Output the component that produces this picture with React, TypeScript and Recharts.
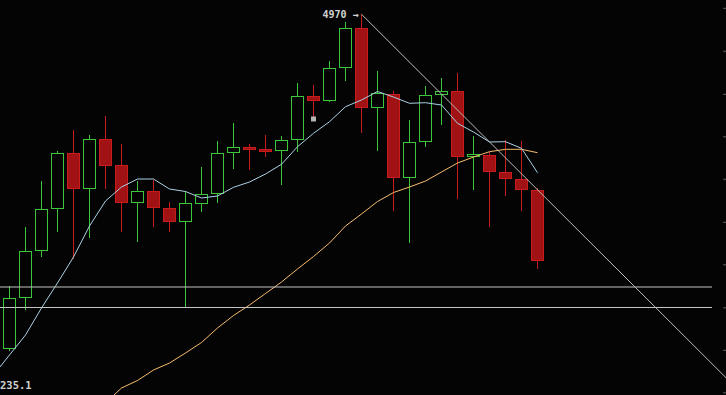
import React from 'react';
import { ComposedChart, Bar, Line, XAxis, YAxis, ReferenceLine, ReferenceDot } from 'recharts';

// candle index (x) values; -1 carries only the moving-average start
const indices = [-1, 0, 1, 2, 3, 4, 5, 6, 7, 8, 9, 10, 11, 12, 13, 14, 15, 16, 17, 18, 19, 20, 21, 22, 23, 24, 25, 26, 27, 28, 29, 30, 31, 32, 33];

const opens = [4302.0, 4404.0, 4498.0, 4582.0, 4692.6, 4622.0, 4720.6, 4666.6, 4594.0, 4616.6, 4582.6, 4555.2, 4591.2, 4611.2, 4694.0, 4704.6, 4700.6, 4697.2, 4720.0, 4806.0, 4797.2, 4863.2, 4942.0, 4783.2, 4810.6, 4644.0, 4716.0, 4810.0, 4816.0, 4685.2, 4688.0, 4654.0, 4640.0, 4618.0];
const closes = [4402.0, 4496.6, 4580.6, 4692.6, 4622.0, 4720.6, 4668.0, 4594.0, 4616.6, 4583.2, 4555.2, 4590.6, 4610.0, 4692.6, 4704.0, 4700.6, 4696.6, 4718.0, 4806.0, 4797.2, 4862.0, 4942.0, 4783.2, 4810.6, 4644.0, 4714.0, 4808.0, 4816.0, 4685.2, 4690.0, 4656.0, 4642.0, 4620.0, 4478.0];
const highs = [4425.2, 4543.2, 4636.6, 4696.6, 4738.6, 4728.6, 4766.6, 4708.6, 4635.2, 4637.2, 4594.6, 4615.2, 4664.6, 4716.6, 4752.6, 4710.6, 4728.6, 4724.6, 4832.6, 4828.6, 4874.6, 4954.0, 4970.0, 4854.6, 4816.6, 4756.6, 4826.6, 4842.6, 4852.6, 4724.6, 4694.6, 4717.2, 4716.6, 4622.0];
const lows = [4297.2, 4380.0, 4485.2, 4535.2, 4482.6, 4524.0, 4621.2, 4535.2, 4515.2, 4545.2, 4535.2, 4384.0, 4575.2, 4593.2, 4661.2, 4659.2, 4685.2, 4629.2, 4695.2, 4766.6, 4796.6, 4837.2, 4734.6, 4697.2, 4577.2, 4513.2, 4705.2, 4749.2, 4601.2, 4619.2, 4545.2, 4607.2, 4577.2, 4461.2];

const maFast = [4248.6, 4288.6, 4328.6, 4382.6, 4432.6, 4484.6, 4546.6, 4596.6, 4624.6, 4640.6, 4640.6, 4620.6, 4615.6, 4602.6, 4606.6, 4624.0, 4634.6, 4650.6, 4670.0, 4705.2, 4732.0, 4755.2, 4785.2, 4798.6, 4815.6, 4804.6, 4792.0, 4793.2, 4788.6, 4752.0, 4734.6, 4714.6, 4715.2, 4702.0, 4653.2];
const maSlow = [null, null, null, null, null, null, null, 4192.6, 4222.6, 4237.6, 4258.6, 4272.6, 4292.6, 4313.6, 4342.6, 4367.6, 4388.6, 4411.6, 4434.6, 4460.6, 4485.6, 4512.6, 4546.6, 4570.6, 4595.6, 4613.6, 4624.6, 4636.6, 4654.6, 4672.6, 4684.6, 4695.2, 4700.0, 4700.0, 4693.2];

const levels = [4424.6, 4383.6];
const priceTicks = [4982, 4896, 4810, 4725, 4640, 4554, 4469, 4383, 4298, 4213];
const trendStart = { i: 22, price: 4970 };
const trendEnd = { i: 44.78125, price: 4243.2 };
const highLabel = '4970 →';
const lowLabel = '235.1';
const lowLabelPrice = 4228.6;
const marker = { i: 19, price: 4760.6 };

const X_MIN = -0.59375;
const X_MAX = 44.78125;
const Y_MIN = 4208.6;
const Y_MAX = 4998.6;
const LEVEL_END = 43.90625;
const TICK_START = 44.59375;

const GREEN = '#3ec63a';
const RED_LINE = '#c81c1c';
const RED_FILL = '#a01214';
const BG = '#040404';

const rows = indices.map((i, k) => {
  const c = k - 1;
  const has = c >= 0;
  return {
    i,
    open: has ? opens[c] : null,
    close: has ? closes[c] : null,
    high: has ? highs[c] : null,
    low: has ? lows[c] : null,
    maFast: maFast[k],
    maSlow: maSlow[k],
  };
});

const Candle = (props: any) => {
  const { x, y, width, height, payload } = props;
  if (!payload || payload.open == null) return null;
  const { open, close, high, low } = payload;
  const yTop = Math.min(y, y + height);
  const h = Math.abs(height);
  const ratio = h / (high - low);
  const toY = (v: number) => yTop + (high - v) * ratio;
  const cx = Math.floor(x + width / 2) + 0.5;
  const up = close >= open;
  const bTop = Math.floor(toY(Math.max(open, close))) + 0.5;
  let bBot = Math.floor(toY(Math.min(open, close))) + 0.5;
  if (bBot - bTop < 1) bBot = bTop + 1;
  const wTop = Math.floor(toY(high));
  const wBot = Math.floor(toY(low)) + 1;
  const line = up ? GREEN : RED_LINE;
  return (
    <g>
      <line x1={cx} x2={cx} y1={wTop} y2={wBot} stroke={line} strokeWidth={1} shapeRendering="crispEdges" />
      <rect x={cx - 6} y={bTop} width={12} height={bBot - bTop} fill={up ? BG : RED_FILL} stroke={line} strokeWidth={1} />
    </g>
  );
};

const Square = (props: any) => {
  const { cx, cy } = props;
  return <rect x={cx - 2.5} y={cy - 2.5} width={5} height={5} fill="#b4b4b4" />;
};

export default function App() {
  return (
    <div style={{ position: 'fixed', left: 0, top: 0, width: 726, height: 395, background: BG, overflow: 'hidden' }}>
      <ComposedChart width={726} height={395} data={rows} margin={{ top: 0, right: 0, bottom: 0, left: 0 }}>
        <XAxis dataKey="i" type="number" domain={[X_MIN, X_MAX]} allowDataOverflow hide />
        <YAxis type="number" domain={[Y_MIN, Y_MAX]} allowDataOverflow hide />
        <Bar
          dataKey={(d: any) => (d.open == null ? null : [d.low, d.high])}
          barSize={12}
          shape={Candle}
          isAnimationActive={false}
        />
        <Line type="linear" dataKey="maSlow" stroke="#f8bc6c" strokeWidth={1} dot={false} isAnimationActive={false} connectNulls={false} />
        <Line type="linear" dataKey="maFast" stroke="#aad2e6" strokeWidth={1} dot={false} isAnimationActive={false} />
        {levels.map((v, k) => (
          <ReferenceLine
            key={'lv' + k}
            segment={[{ x: X_MIN, y: v }, { x: LEVEL_END, y: v }]}
            stroke="#c4c4c4"
            strokeWidth={1}
            ifOverflow="visible"
          />
        ))}
        {priceTicks.map((v, k) => (
          <ReferenceLine
            key={'tk' + k}
            segment={[{ x: TICK_START, y: v }, { x: X_MAX, y: v }]}
            stroke="#5a5a5a"
            strokeWidth={1}
            ifOverflow="visible"
          />
        ))}
        <ReferenceLine
          segment={[{ x: trendStart.i, y: trendStart.price }, { x: trendEnd.i, y: trendEnd.price }]}
          stroke="#bcbcbc"
          strokeWidth={1}
          ifOverflow="visible"
        />
        <ReferenceDot x={marker.i} y={marker.price} r={2.5} shape={Square} ifOverflow="visible" />
        <ReferenceDot
          x={trendStart.i}
          y={trendStart.price}
          r={0}
          fill="none"
          stroke="none"
          ifOverflow="visible"
          label={{ value: highLabel, position: 'left', offset: 3, fill: '#d2d2d2', fontSize: 10, fontWeight: 'bold', fontFamily: 'DejaVu Sans Mono' }}
        />
        <ReferenceDot
          x={X_MIN}
          y={lowLabelPrice}
          r={0}
          fill="none"
          stroke="none"
          ifOverflow="visible"
          label={{ value: lowLabel, position: 'right', offset: 0, fill: '#d2d2d2', fontSize: 10.5, fontWeight: 'bold', fontFamily: 'DejaVu Sans Mono' }}
        />
      </ComposedChart>
    </div>
  );
}
